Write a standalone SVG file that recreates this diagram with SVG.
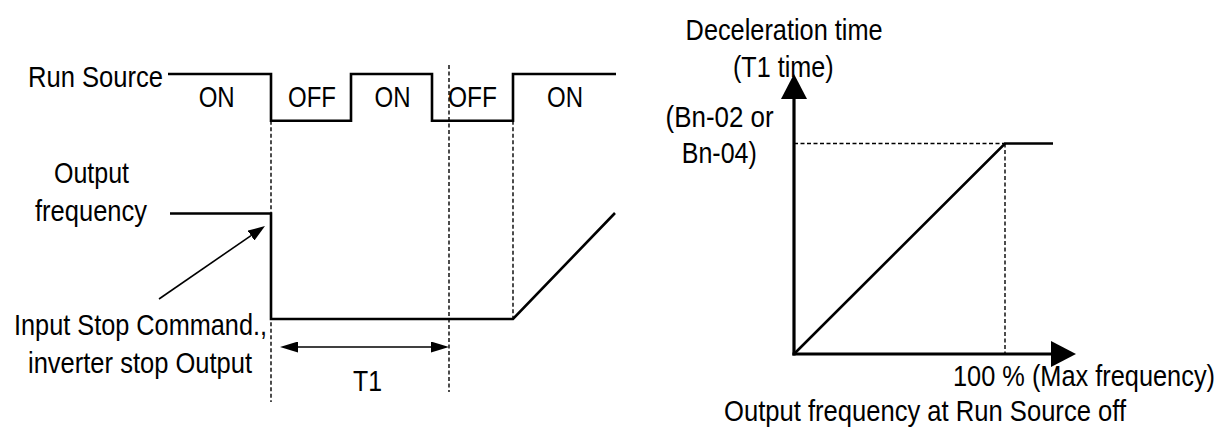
<svg xmlns="http://www.w3.org/2000/svg" width="1222" height="430" viewBox="0 0 1222 430">
<style>
text{font-family:"Liberation Sans Narrow","Liberation Sans",Arial,sans-serif;font-size:30px;fill:#000}
.w{fill:none;stroke:#000;stroke-width:2.6;stroke-linejoin:miter}
.ax{fill:none;stroke:#000;stroke-width:3.2}
.d{fill:none;stroke:#000;stroke-width:1.4;stroke-dasharray:4 2.5}
.t{fill:none;stroke:#000;stroke-width:1.6}
</style>
<defs>
<marker id="ah" markerUnits="userSpaceOnUse" viewBox="0 0 17 12" markerWidth="17" markerHeight="12" refX="0" refY="6" orient="auto-start-reverse"><path d="M0,0L17,6L0,12z" fill="#000"/></marker>
<marker id="ah2" markerUnits="userSpaceOnUse" viewBox="0 0 18 11" markerWidth="18" markerHeight="11" refX="0" refY="5.5" orient="auto-start-reverse"><path d="M0,0L18,5.5L0,11z" fill="#000"/></marker>
<marker id="big" markerUnits="userSpaceOnUse" viewBox="0 0 25 26" markerWidth="25" markerHeight="26" refX="0" refY="13" orient="auto"><path d="M0,0L25,13L0,26z" fill="#000"/></marker>
</defs>

<g id="timing-labels">
<text x="28" y="86.5" textLength="135" lengthAdjust="spacingAndGlyphs">Run Source</text>
<text x="198.7" y="106.7" textLength="36" lengthAdjust="spacingAndGlyphs">ON</text>
<text x="288" y="106.7" textLength="48" lengthAdjust="spacingAndGlyphs">OFF</text>
<text x="374.5" y="106.7" textLength="36" lengthAdjust="spacingAndGlyphs">ON</text>
<text x="448" y="106.7" textLength="49" lengthAdjust="spacingAndGlyphs">OFF</text>
<text x="547" y="106.7" textLength="36" lengthAdjust="spacingAndGlyphs">ON</text>
<text x="54" y="183" textLength="75" lengthAdjust="spacingAndGlyphs">Output</text>
<text x="35" y="221" textLength="112" lengthAdjust="spacingAndGlyphs">frequency</text>
<text x="14" y="335" textLength="253" lengthAdjust="spacingAndGlyphs">Input Stop Command.,</text>
<text x="28" y="372.7" textLength="224" lengthAdjust="spacingAndGlyphs">inverter stop Output</text>
<text x="353" y="390.7" textLength="29" lengthAdjust="spacingAndGlyphs">T1</text>
</g>

<g id="timing-waves">
<polyline class="w" points="168,74 271,74 271,120.7 351,120.7 351,74 432,74 432,120.7 513,120.7 513,74 616,74"/>
<polyline class="w" points="170,213.5 271,213.5 271,319 513,319 615,213"/>
</g>

<g id="connectors">
<line class="d" x1="271" y1="120.7" x2="271" y2="402"/>
<line class="d" x1="449" y1="65" x2="449" y2="392"/>
<line class="d" x1="513" y1="120.7" x2="513" y2="319"/>
<line class="t" x1="159" y1="299" x2="251" y2="235.6" marker-end="url(#ah)"/>
<line class="t" x1="298" y1="347" x2="431" y2="347" marker-start="url(#ah2)" marker-end="url(#ah2)"/>
</g>

<g id="graph-labels">
<text x="685.6" y="39.5" textLength="197" lengthAdjust="spacingAndGlyphs">Deceleration time</text>
<text x="733" y="76.7" textLength="100.5" lengthAdjust="spacingAndGlyphs">(T1 time)</text>
<text x="665.6" y="126.7" textLength="108" lengthAdjust="spacingAndGlyphs">(Bn-02 or</text>
<text x="681.8" y="163" textLength="75" lengthAdjust="spacingAndGlyphs">Bn-04)</text>
<text transform="matrix(0.845 0 0 1 953 386)" x="0" y="0">100 % (Max frequency)</text>
<text x="724" y="421" textLength="402" lengthAdjust="spacingAndGlyphs">Output frequency at Run Source off</text>
</g>

<g id="graph">
<line class="d" x1="794" y1="143.5" x2="1005" y2="143.5"/>
<line class="d" x1="1005" y1="143.5" x2="1005" y2="354"/>
<polyline class="w" points="794,354 1005,143.5 1053,143.5"/>
<line class="ax" x1="794" y1="355.6" x2="794" y2="99" marker-end="url(#big)"/>
<line class="ax" x1="792.4" y1="354" x2="1051" y2="354" marker-end="url(#big)"/>
</g>
</svg>
